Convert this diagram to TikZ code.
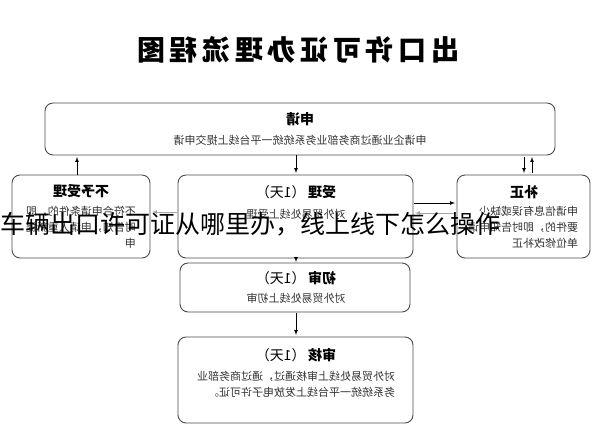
\documentclass[tikz,border=0pt]{standalone}
\usepackage{fontspec}
\usepackage{graphicx}
\setmainfont{Noto Sans CJK SC}
\newcommand{\mir}[1]{\reflectbox{#1}}
\begin{document}
\begin{tikzpicture}[x=1pt,y=-1pt,
  bx/.style={draw=black!70,line width=0.9pt,rounded corners=8pt},
  ar/.style={-latex,line width=0.7pt},
  gar/.style={-latex,line width=0.7pt,black!35},
  tt/.style={font=\fontsize{14}{16}\selectfont\bfseries},
  tx/.style={font=\fontsize{11}{16}\selectfont,text=black!80}]
\useasboundingbox (0,0) rectangle (600,432);
\fill[white] (0,0) rectangle (600,432);
\node (title) at (298,50) {\mir{\fontsize{28}{30}\selectfont\bfseries 出\,口\,许\,可\,证\,办\,理\,流\,程\,图}};
\draw[bx] (45,103) rectangle (555,155);
\node[tt] (a) at (300,119) {\mir{申请}};
\node[tx] at (300,140) {\mir{申请企业通过商务部业务系统统一平台线上提交申请}};
\draw[bx] (12,175) rectangle (150,258);
\node[tt] at (81,191) {\mir{不予受理}};
\node[tx] at (81,228) {\mir{\begin{tabular}{@{}l@{}}不符合申请条件的，即\\时告知，申请人重新提\\申\end{tabular}}};
\draw[bx] (178,175) rectangle (413,258);
\node[tt] at (296,192) {\mir{受理\,\mdseries（1天）}};
\node[tx] at (296,214) {\mir{对外贸易处线上受理}};
\draw[bx] (457,175) rectangle (590,258);
\node[tt] at (524,192) {\mir{补正}};
\node[tx] at (523,228) {\mir{\begin{tabular}{@{}l@{}}申请信息有误或缺少\\要件的，即时告知申请\\单位修改补正\end{tabular}}};
\draw[bx] (180,263) rectangle (410,312);
\node[tt] at (296,278) {\mir{初审\,\mdseries（1天）}};
\node[tx] at (296,298) {\mir{对外贸易处线上初审}};
\draw[bx] (178,337) rectangle (413,423);
\node[tt] at (296,355) {\mir{审核\,\mdseries（1天）}};
\node[tx] at (296,385) {\mir{\begin{tabular}{@{}l@{}}对外贸易处线上审核通过，通过商务部业\\务系统统一平台线上发放电子许可证。\end{tabular}}};
\draw[ar] (296,155) -- (296,173);
\draw[ar] (77,175) -- (77,157);
\draw[ar] (524,157) -- (524,173);
\draw[ar] (532,173) -- (532,157);
\draw[ar] (414,203) -- (455,203);
\draw[gar] (456,213) -- (415,213);
\draw[gar] (177,212) -- (152,212);
\draw[ar] (296,258) -- (296,262);
\draw[ar] (296,313) -- (296,335);
\node[anchor=west,inner sep=0pt] (cap) at (0,224) {\fontsize{25}{27}\selectfont 车辆出口许可证从哪里办，线上线下怎么操作};
\end{tikzpicture}
\end{document}
